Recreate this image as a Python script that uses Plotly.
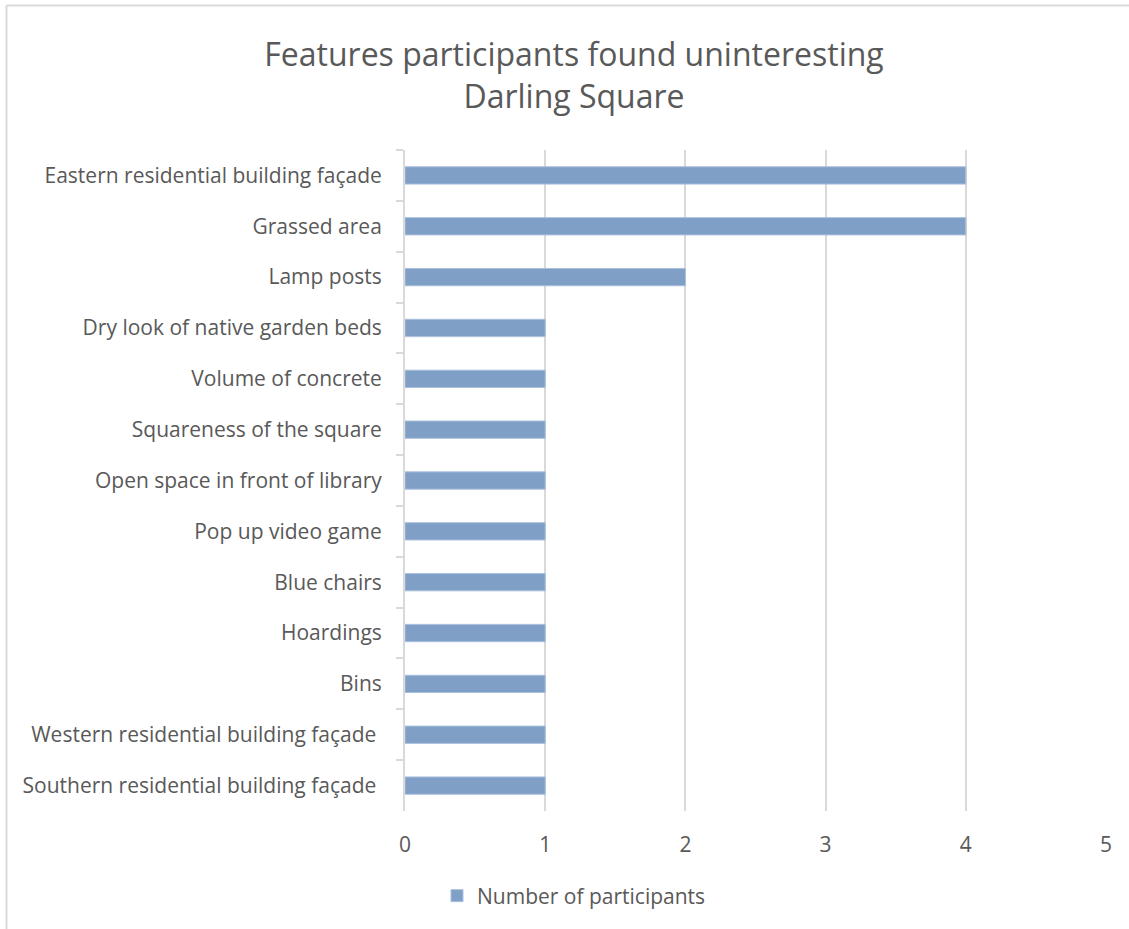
import plotly.graph_objects as go

# Survey responses: features participants found uninteresting
features = [
    "Eastern residential building façade",
    "Grassed area",
    "Lamp posts",
    "Dry look of native garden beds",
    "Volume of concrete",
    "Squareness of the square",
    "Open space in front of library",
    "Pop up video game",
    "Blue chairs",
    "Hoardings",
    "Bins",
    "Western residential building façade ",
    "Southern residential building façade ",
]
participants = [4, 4, 2, 1, 1, 1, 1, 1, 1, 1, 1, 1, 1]

FONT = "Open Sans"
TEXT = "#595959"
GRID = "#d9d9d9"

W, H = 1129, 929
L, R, T, B = 405, 23, 150, 118
pw, ph = W - L - R, H - T - B

def px_x(p):
    return (p - L) / pw

def px_y(p):
    return (H - B - p) / ph

fig = go.Figure(
    go.Bar(
        x=participants,
        y=features,
        orientation="h",
        name="Number of participants",
        marker=dict(color="#7f9fc6", line=dict(color="#a9bfdd", width=1)),
        showlegend=True,
    )
)

fig.update_layout(
    width=W,
    height=H,
    margin=dict(l=L, r=R, t=T, b=B),
    paper_bgcolor="white",
    plot_bgcolor="white",
    font=dict(family=FONT, color=TEXT, size=21),
    bargap=0.66,
    title=dict(
        text="Features participants found uninteresting<br>Darling Square",
        x=574 / W,
        xanchor="center",
        y=1 - 66 / H,
        yanchor="middle",
        font=dict(family=FONT, size=32, color=TEXT),
    ),
    xaxis=dict(
        range=[0, 5],
        dtick=1,
        showgrid=True,
        gridcolor=GRID,
        gridwidth=1.5,
        zeroline=False,
        showline=False,
        ticks="",
        tickfont=dict(size=21, color=TEXT),
        ticklabelstandoff=19,
    ),
    yaxis=dict(
        autorange="reversed",
        showline=True,
        linecolor=GRID,
        linewidth=2,
        ticks="outside",
        tickson="boundaries",
        ticklen=7,
        tickcolor=GRID,
        tickwidth=1.5,
        showgrid=False,
        tickfont=dict(size=21, color=TEXT),
        ticklabelstandoff=17,
    ),
    legend=dict(
        orientation="h",
        x=437 / W,
        xanchor="left",
        xref="container",
        y=1 - 896 / H,
        yanchor="middle",
        yref="container",
        font=dict(size=21, color=TEXT),
    ),
    shapes=[
        # chart frame (left and top edges)
        dict(type="line", xref="paper", yref="paper",
             x0=px_x(6.5), x1=px_x(6.5), y0=px_y(5.5), y1=px_y(1000),
             line=dict(color=GRID, width=2)),
        dict(type="line", xref="paper", yref="paper",
             x0=px_x(6.5), x1=px_x(1200), y0=px_y(5.5), y1=px_y(5.5),
             line=dict(color=GRID, width=2)),
    ],
)

fig.write_html("out.html")
